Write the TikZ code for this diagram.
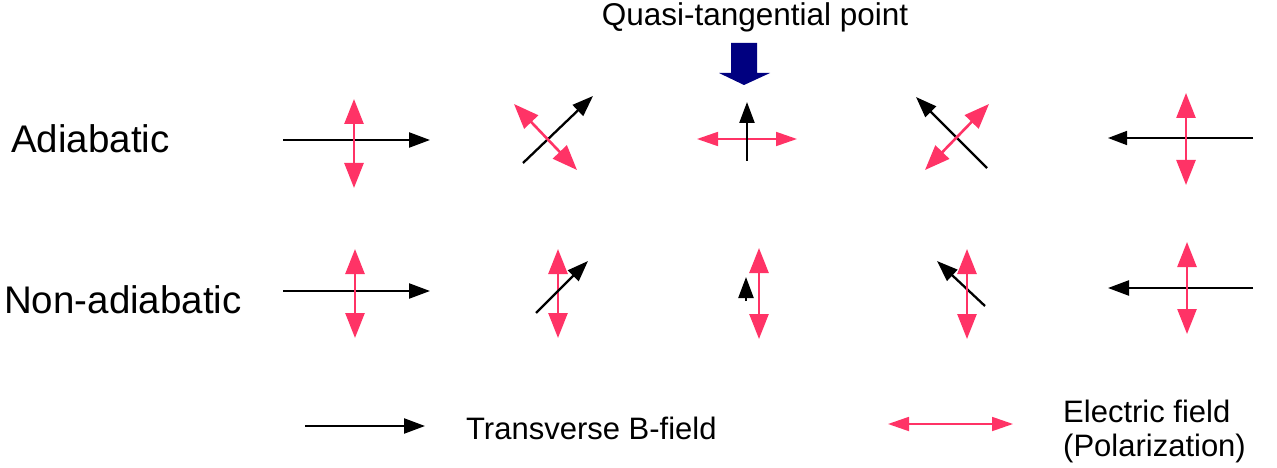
\documentclass[tikz,border=0pt]{standalone}
\usepackage{fontspec}
\setmainfont{Liberation Sans}
\usetikzlibrary{arrows.meta}
\definecolor{efcol}{RGB}{255,51,102}
\definecolor{navyblue}{RGB}{0,0,128}
\tikzset{
  bfield/.style={black, line width=2.3pt, -{Triangle[length=21pt,width=15pt]}},
  bthin/.style={black, line width=1.5pt, -{Triangle[length=19pt,width=14pt]}},
  efield/.style={efcol, line width=2.6pt, {Triangle[length=25pt,width=19pt]}-{Triangle[length=25pt,width=19pt]}},
  efsmall/.style={efcol, line width=1.8pt, {Triangle[length=21pt,width=14pt]}-{Triangle[length=21pt,width=14pt]}},
  rowlabel/.style={inner sep=0pt, anchor=base west, font=\fontsize{38.5}{44}\selectfont},
  legtext/.style={inner sep=0pt, anchor=base west, font=\fontsize{31}{34}\selectfont}
}
\begin{document}
\begin{tikzpicture}[x=1pt,y=-1pt]
\useasboundingbox (0,0) rectangle (1277,468);
% labels
\node[rowlabel] (ad) at (11,153) {Adiabatic};
\node[rowlabel] (nad) at (4,313) {Non-adiabatic};
\node[inner sep=0pt, anchor=base, font=\fontsize{31.5}{34}\selectfont] (qt) at (755,26) {Quasi-tangential point};
% blue arrow
\fill[navyblue] (731,43) -- (757,43) -- (757,73) -- (770,73) -- (744,85) -- (719,73) -- (731,73) -- cycle;
% Row 1 coordinates
\coordinate (a1bs) at (283,140); \coordinate (a1be) at (430,140);
\coordinate (a1es) at (354,99);  \coordinate (a1ee) at (354,188);
\coordinate (a2bs) at (523,163); \coordinate (a2be) at (593,96);
\coordinate (a2es) at (514,104); \coordinate (a2ee) at (577,170);
\coordinate (a3bs) at (747,161); \coordinate (a3be) at (747,102);
\coordinate (a3es) at (697,139); \coordinate (a3ee) at (797,139);
\coordinate (a4bs) at (987,168); \coordinate (a4be) at (916,97);
\coordinate (a4es) at (925,170); \coordinate (a4ee) at (989,104);
\coordinate (a5bs) at (1253,138); \coordinate (a5be) at (1108,138);
\coordinate (a5es) at (1186,93); \coordinate (a5ee) at (1186,185);
% Row 2 coordinates
\coordinate (n1bs) at (283,291); \coordinate (n1be) at (430,291);
\coordinate (n1es) at (355,249); \coordinate (n1ee) at (355,338);
\coordinate (n2bs) at (536,313); \coordinate (n2be) at (588,261);
\coordinate (n2es) at (558,249); \coordinate (n2ee) at (558,338);
\coordinate (n3bs) at (746,301); \coordinate (n3be) at (746,277);
\coordinate (n3es) at (759,248); \coordinate (n3ee) at (759,339);
\coordinate (n4bs) at (985,306); \coordinate (n4be) at (937,261);
\coordinate (n4es) at (967,249); \coordinate (n4ee) at (967,339);
\coordinate (n5bs) at (1253,288); \coordinate (n5be) at (1108,288);
\coordinate (n5es) at (1187,242); \coordinate (n5ee) at (1187,334);
% Row 1 arrows
\draw[bfield] (a1bs) -- (a1be);
\draw[efield] (a1es) -- (a1ee);
\draw[bfield] (a2bs) -- (a2be);
\draw[efield] (a2es) -- (a2ee);
\draw[efsmall] (a3es) -- (a3ee);
\draw[bfield] (a3bs) -- (a3be);
\draw[bfield] (a4bs) -- (a4be);
\draw[efield] (a4es) -- (a4ee);
\draw[bthin] (a5bs) -- (a5be);
\draw[efield] (a5es) -- (a5ee);
% Row 2 arrows
\draw[bfield] (n1bs) -- (n1be);
\draw[efield] (n1es) -- (n1ee);
\draw[efield] (n2es) -- (n2ee);
\draw[bfield] (n2bs) -- (n2be);
\draw[bfield] (n3bs) -- (n3be);
\draw[efield] (n3es) -- (n3ee);
\draw[bfield] (n4bs) -- (n4be);
\draw[efield] (n4es) -- (n4ee);
\draw[bfield] (n5bs) -- (n5be);
\draw[efield] (n5es) -- (n5ee);
% Legend
\coordinate (lbs) at (305,426); \coordinate (lbe) at (425,426);
\coordinate (les) at (888,424); \coordinate (lee) at (1013,424);
\draw[bfield] (lbs) -- (lbe);
\draw[efsmall] (les) -- (lee);
\node[legtext] (tb) at (466,439) {Transverse B-field};
\node[legtext] (ef) at (1063,422) {Electric field};
\node[legtext] (pol) at (1063,456) {(Polarization)};
\end{tikzpicture}
\end{document}
